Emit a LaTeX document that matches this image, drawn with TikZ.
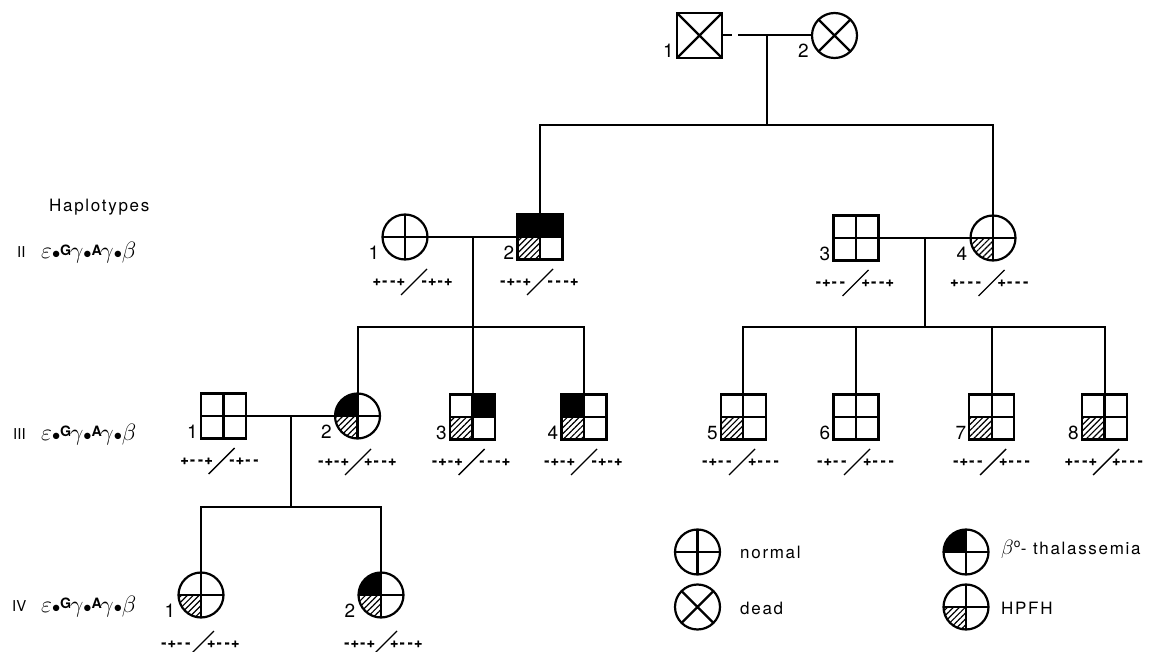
\documentclass[tikz,border=0pt]{standalone}
\usepackage{fontspec}
\setmainfont{TeX Gyre Heros}
\usetikzlibrary{patterns.meta,calc}

\tikzset{
 sym/.style={draw, line width=2.2pt, inner sep=0pt, outer sep=0pt},
 sqsym/.style={sym, rectangle, minimum size=45pt},
 cisym/.style={sym, circle, minimum size=45pt},
 conn/.style={line width=2pt},
 hatchfill/.style={pattern={Lines[angle=45,distance=4.2pt,line width=1.2pt]}},
 blackfill/.style={fill=black},
 numlab/.style={font=\fontsize{19}{19}\selectfont, anchor=base east, inner sep=0pt},
 haptxt/.style={font=\fontsize{14}{14}\selectfont\bfseries\addfontfeature{FakeBold=1.6}, inner sep=0pt},
 slashln/.style={line width=1.4pt},
 legtxt/.style={font=\fontsize{17}{17}\selectfont\addfontfeature{LetterSpace=10}, inner sep=0pt},
 gentxt/.style={font=\fontsize{15}{15}\selectfont, anchor=base west, inner sep=0pt},
 formtxt/.style={anchor=base west, inner sep=0pt},
}

\def\hapc#1{\ifx#1\relax\else\makebox[8pt]{#1}\expandafter\hapc\fi}
% square quadrant fill: name, corner, style
\newcommand\sqq[3]{\fill[#3] (#1.center) rectangle (#1.#2);}
% circle quadrant fill: name, start angle, style
\newcommand\ciq[3]{\fill[#3] (#1.center) -- ([shift={(#2:22.5pt)}]#1.center) arc[start angle=#2, delta angle=90, radius=22.5pt] -- cycle;}
\newcommand\crs[1]{\draw[line width=2.2pt] (#1.north) -- (#1.south) (#1.west) -- (#1.east);}
\newcommand\xcr[1]{\draw[line width=2.2pt] (#1.north west) -- (#1.south east) (#1.north east) -- (#1.south west);}
\newcommand\nlab[2]{\path (#1.west |- #1.south) ++(-3pt,0) node[numlab] {#2};}
% haplotype: name, x, y(screen), left, right
\newcommand\hap[5]{%
 \node[haptxt,anchor=east] (#1L) at ({#2-9},{-#3}) {\hapc#4\relax};
 \node[haptxt,anchor=west] (#1R) at ({#2+6},{-#3}) {\hapc#5\relax};
 \draw[slashln] ({#2-13},{-#3-13}) -- ({#2+13},{-#3+13});}
\newcommand\hdot{\ensuremath{\scriptscriptstyle\bullet}}
\newcommand\hform{\scalebox{0.95}{\fontsize{24.88}{28}\selectfont$\varepsilon$\hdot\raisebox{4pt}{\fontsize{15}{15}\selectfont\bfseries G}$\mkern-1mu\gamma$\hdot\raisebox{4pt}{\fontsize{15}{15}\selectfont\bfseries A}$\mkern-1mu\gamma$\hdot$\beta$}}

\begin{document}
\begin{tikzpicture}[x=1pt,y=1pt]
\useasboundingbox (0,0) rectangle (1176,-652);

% ---------- Generation I
\node[sqsym] (I1) at (699.5,-35.5) {};
\xcr{I1}
\nlab{I1}{1}
\node[cisym] (I2) at (834.5,-35.5) {};
\xcr{I2}
\nlab{I2}{2}
\draw[conn] (I1.east) -- ++(10,0);
\draw[conn] ($(I1.east)+(16,0)$) -- (I2.west);
\coordinate (mI) at ($(I1.east)!0.5!(I2.west)$);
\coordinate (sI) at ($(mI)+(0,-89.5)$);

% ---------- Generation II
\node[cisym] (II1) at (405,-237) {};
\crs{II1}
\nlab{II1}{1}
\node[sqsym] (II2) at (540,-237) {};
\sqq{II2}{north west}{blackfill}
\sqq{II2}{north east}{blackfill}
\sqq{II2}{south west}{hatchfill}
\crs{II2}
\nlab{II2}{2}
\node[sqsym] (II3) at (856,-238) {};
\crs{II3}
\nlab{II3}{3}
\node[cisym] (II4) at (993,-238) {};
\ciq{II4}{180}{hatchfill}
\crs{II4}
\nlab{II4}{4}

\draw[conn] (mI) -- (sI);
\draw[conn] (II2.north) |- (sI) -| (II4.north);
\draw[conn] (II1.east) -- (II2.west);
\coordinate (mII) at ($(II1.east)!0.5!(II2.west)$);
\coordinate (sII) at ($(mII)+(0,-90)$);
\draw[conn] (II3.east) -- (II4.west);
\coordinate (mIIb) at ($(II3.east)!0.5!(II4.west)$);
\coordinate (sIIb) at ($(mIIb)+(0,-89)$);

\hap{hII1}{414}{282}{+--+}{-+-+}
\hap{hII2}{540}{282}{-+-+}{---+}
\hap{hII3}{855.5}{283}{-+--}{+--+}
\hap{hII4}{991.5}{283}{+---}{+---}

% ---------- Generation III
\node[sqsym] (III1) at (223.5,-416) {};
\crs{III1}
\nlab{III1}{1}
\node[cisym] (III2) at (357.5,-416) {};
\ciq{III2}{90}{blackfill}
\ciq{III2}{180}{hatchfill}
\crs{III2}
\nlab{III2}{2}
\node[sqsym] (III3) at (472.5,-417) {};
\sqq{III3}{north east}{blackfill}
\sqq{III3}{south west}{hatchfill}
\crs{III3}
\nlab{III3}{3}
\node[sqsym] (III4) at (584,-417) {};
\sqq{III4}{north west}{blackfill}
\sqq{III4}{south west}{hatchfill}
\crs{III4}
\nlab{III4}{4}
\node[sqsym] (III5) at (743.3,-417) {};
\sqq{III5}{south west}{hatchfill}
\crs{III5}
\nlab{III5}{5}
\node[sqsym] (III6) at (856,-417) {};
\crs{III6}
\nlab{III6}{6}
\node[sqsym] (III7) at (991.8,-417) {};
\sqq{III7}{south west}{hatchfill}
\crs{III7}
\nlab{III7}{7}
\node[sqsym] (III8) at (1104.5,-417) {};
\sqq{III8}{south west}{hatchfill}
\crs{III8}
\nlab{III8}{8}

\draw[conn] (mII) -- (III3.north);
\draw[conn] (III2.north) |- (sII) -| (III4.north);
\draw[conn] (mIIb) -- (sIIb);
\draw[conn] (III5.north) |- (sIIb) -| (III8.north);
\draw[conn] (III6.north) -- (III6.north |- sIIb);
\draw[conn] (III7.north) -- (III7.north |- sIIb);
\draw[conn] (III1.east) -- (III2.west);
\coordinate (mIII) at ($(III1.east)!0.5!(III2.west)$);
\coordinate (sIII) at ($(mIII)+(0,-91)$);

\hap{hIII1}{221.7}{461}{+--+}{-+--}
\hap{hIII2}{358}{462}{-+-+}{+--+}
\hap{hIII3}{471.7}{462}{-+-+}{---+}
\hap{hIII4}{584}{462}{-+-+}{-+-+}
\hap{hIII5}{742}{462}{-+--}{+---}
\hap{hIII6}{857}{462}{-+--}{+---}
\hap{hIII7}{993}{462}{-+--}{+---}
\hap{hIII8}{1106}{462}{+--+}{+---}

% ---------- Generation IV
\node[cisym] (IV1) at (201,-595) {};
\ciq{IV1}{180}{hatchfill}
\crs{IV1}
\nlab{IV1}{1}
\node[cisym] (IV2) at (381,-595) {};
\ciq{IV2}{90}{blackfill}
\ciq{IV2}{180}{hatchfill}
\crs{IV2}
\nlab{IV2}{2}
\draw[conn] (mIII) -- (sIII);
\draw[conn] (IV1.north) |- (sIII) -| (IV2.north);

\hap{hIV1}{201}{644}{-+--}{+--+}
\hap{hIV2}{384}{644}{-+-+}{+--+}

% ---------- Left labels
\node[legtxt,anchor=west] (hapl) at (49,-207.5) {Haplotypes};
\node[gentxt] (gII) at (17,-258) {II};
\node[formtxt] (fII) at (41,-259) {\hform};
\node[gentxt] (gIII) at (13,-439) {III};
\node[formtxt] (fIII) at (41,-440) {\hform};
\node[gentxt] (gIV) at (12,-611) {IV};
\node[formtxt] (fIV) at (41,-612) {\hform};

% ---------- Legend
\node[cisym] (L1) at (697.5,-552) {};
\crs{L1}
\node[legtxt,anchor=west] (L1t) at (740,-552) {normal};
\node[cisym] (L2) at (697.5,-607) {};
\xcr{L2}
\node[legtxt,anchor=west] (L2t) at (740,-608) {dead};
\node[cisym] (L3) at (966,-552) {};
\ciq{L3}{90}{blackfill}
\crs{L3}
\node[legtxt,anchor=west] (L3t) at (1001,-549) {{\fontsize{22}{22}\selectfont$\beta$}$^{\mathrm{o}}$- thalassemia};
\node[cisym] (L4) at (966,-607) {};
\ciq{L4}{180}{hatchfill}
\crs{L4}
\node[legtxt,anchor=west] (L4t) at (1001,-608) {HPFH};
\end{tikzpicture}
\end{document}
